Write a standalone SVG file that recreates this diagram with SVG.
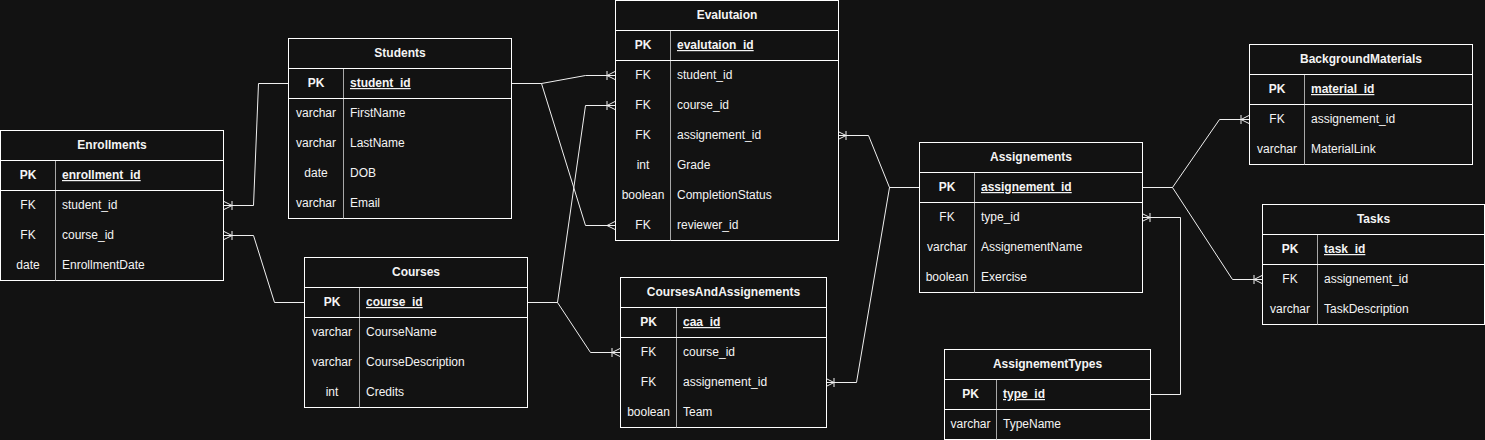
<svg xmlns="http://www.w3.org/2000/svg" width="1485" height="440" viewBox="0 0 1485 440">
<style>
.bg{fill:#121212}
.box{fill:#121212;stroke:#ffffff;stroke-width:1}
.ln{stroke:#ffffff;stroke-width:1;fill:none}
.dv{stroke:#a8a8a8;stroke-width:1;fill:none}
.edge{fill:none;stroke:#f0f0f0;stroke-width:1}
text{font-family:"Liberation Sans",Arial,Helvetica,sans-serif;font-size:12px;fill:#f4f4f4}
.t{font-weight:bold;text-anchor:middle}
.k{text-anchor:middle}
.kb{text-anchor:middle;font-weight:bold}
.pk{font-weight:bold;text-decoration:underline}
</style>
<defs>
<marker id="oneMany" markerUnits="userSpaceOnUse" viewBox="-12 -6 14 12" refX="0" refY="0" markerWidth="14" markerHeight="12" orient="auto" overflow="visible">
<path d="M-8,0 L0,-4 M-8,0 L0,4 M-8,-4.5 L-8,4.5" fill="none" stroke="#f0f0f0" stroke-width="1"/>
</marker>
<marker id="many" markerUnits="userSpaceOnUse" viewBox="-12 -6 14 12" refX="0" refY="0" markerWidth="14" markerHeight="12" orient="auto" overflow="visible">
<path d="M-8,0 L0,-4 M-8,0 L0,4" fill="none" stroke="#f0f0f0" stroke-width="1"/>
</marker>
</defs>
<rect class="bg" x="0" y="0" width="1485" height="440"/>

<g id="connectors">
<polyline class="edge" points="288,83.5 258.5,83.5 253.5,205.5 224,205.5" marker-end="url(#oneMany)"/>
<polyline class="edge" points="304,302.5 274.5,302.5 253.5,235.5 224,235.5" marker-end="url(#oneMany)"/>
<polyline class="edge" points="511,83.5 541.5,83.5 585.5,75.5 615,75.5" marker-end="url(#oneMany)"/>
<polyline class="edge" points="511,83.5 541.5,83.5 585.5,225.5 615,225.5" marker-end="url(#many)"/>
<polyline class="edge" points="527,302.5 557.5,302.5 585.5,105.5 615,105.5" marker-end="url(#oneMany)"/>
<polyline class="edge" points="527,302.5 557.5,302.5 590.5,352.5 620,352.5" marker-end="url(#oneMany)"/>
<polyline class="edge" points="919,187.5 889.5,187.5 868.5,135.5 838,135.5" marker-end="url(#oneMany)"/>
<polyline class="edge" points="919,187.5 889.5,187.5 856.5,382.5 826,382.5" marker-end="url(#oneMany)"/>
<polyline class="edge" points="1142,187.5 1172.5,187.5 1219.5,119.5 1249,119.5" marker-end="url(#oneMany)"/>
<polyline class="edge" points="1142,187.5 1172.5,187.5 1232.5,279.5 1262,279.5" marker-end="url(#oneMany)"/>
<polyline class="edge" points="1150,394.5 1180.5,394.5 1180.5,217.5 1142,217.5" marker-end="url(#oneMany)"/>
</g>

<g id="Enrollments">
<rect class="box" x="0.5" y="130.5" width="223" height="150"/>
<path class="dv" d="M55.5,160.5 V280.5"/>
<path class="ln" d="M0.5,160.5 H223.5 M0.5,190.5 H223.5"/>
<text class="t" x="112" y="149">Enrollments</text>
<text class="kb" x="28" y="179">PK</text><text class="pk" x="62" y="179">enrollment_id</text>
<text class="k" x="28" y="209">FK</text><text x="62" y="209">student_id</text>
<text class="k" x="28" y="239">FK</text><text x="62" y="239">course_id</text>
<text class="k" x="28" y="269">date</text><text x="62" y="269">EnrollmentDate</text>
</g>

<g id="Students">
<rect class="box" x="288.5" y="38.5" width="223" height="180"/>
<path class="dv" d="M343.5,68.5 V218.5"/>
<path class="ln" d="M288.5,68.5 H511.5 M288.5,98.5 H511.5"/>
<text class="t" x="400" y="57">Students</text>
<text class="kb" x="316" y="87">PK</text><text class="pk" x="350" y="87">student_id</text>
<text class="k" x="316" y="117">varchar</text><text x="350" y="117">FirstName</text>
<text class="k" x="316" y="147">varchar</text><text x="350" y="147">LastName</text>
<text class="k" x="316" y="177">date</text><text x="350" y="177">DOB</text>
<text class="k" x="316" y="207">varchar</text><text x="350" y="207">Email</text>
</g>

<g id="Evalutaion">
<rect class="box" x="615.5" y="0.5" width="223" height="240"/>
<path class="dv" d="M670.5,30.5 V240.5"/>
<path class="ln" d="M615.5,30.5 H838.5 M615.5,60.5 H838.5"/>
<text class="t" x="727" y="19">Evalutaion</text>
<text class="kb" x="643" y="49">PK</text><text class="pk" x="677" y="49">evalutaion_id</text>
<text class="k" x="643" y="79">FK</text><text x="677" y="79">student_id</text>
<text class="k" x="643" y="109">FK</text><text x="677" y="109">course_id</text>
<text class="k" x="643" y="139">FK</text><text x="677" y="139">assignement_id</text>
<text class="k" x="643" y="169">int</text><text x="677" y="169">Grade</text>
<text class="k" x="643" y="199">boolean</text><text x="677" y="199">CompletionStatus</text>
<text class="k" x="643" y="229">FK</text><text x="677" y="229">reviewer_id</text>
</g>

<g id="Courses">
<rect class="box" x="304.5" y="257.5" width="223" height="150"/>
<path class="dv" d="M359.5,287.5 V407.5"/>
<path class="ln" d="M304.5,287.5 H527.5 M304.5,317.5 H527.5"/>
<text class="t" x="416" y="276">Courses</text>
<text class="kb" x="332" y="306">PK</text><text class="pk" x="366" y="306">course_id</text>
<text class="k" x="332" y="336">varchar</text><text x="366" y="336">CourseName</text>
<text class="k" x="332" y="366">varchar</text><text x="366" y="366">CourseDescription</text>
<text class="k" x="332" y="396">int</text><text x="366" y="396">Credits</text>
</g>

<g id="CoursesAndAssignements">
<rect class="box" x="620.5" y="277.5" width="206" height="150"/>
<path class="dv" d="M676.5,307.5 V427.5"/>
<path class="ln" d="M620.5,307.5 H826.5 M620.5,337.5 H826.5"/>
<text class="t" x="723.5" y="296">CoursesAndAssignements</text>
<text class="kb" x="648.5" y="326">PK</text><text class="pk" x="683" y="326">caa_id</text>
<text class="k" x="648.5" y="356">FK</text><text x="683" y="356">course_id</text>
<text class="k" x="648.5" y="386">FK</text><text x="683" y="386">assignement_id</text>
<text class="k" x="648.5" y="416">boolean</text><text x="683" y="416">Team</text>
</g>

<g id="Assignements">
<rect class="box" x="919.5" y="142.5" width="223" height="150"/>
<path class="dv" d="M974.5,172.5 V292.5"/>
<path class="ln" d="M919.5,172.5 H1142.5 M919.5,202.5 H1142.5"/>
<text class="t" x="1031" y="161">Assignements</text>
<text class="kb" x="947" y="191">PK</text><text class="pk" x="981" y="191">assignement_id</text>
<text class="k" x="947" y="221">FK</text><text x="981" y="221">type_id</text>
<text class="k" x="947" y="251">varchar</text><text x="981" y="251">AssignementName</text>
<text class="k" x="947" y="281">boolean</text><text x="981" y="281">Exercise</text>
</g>

<g id="BackgroundMaterials">
<rect class="box" x="1249.5" y="44.5" width="223" height="120"/>
<path class="dv" d="M1304.5,74.5 V164.5"/>
<path class="ln" d="M1249.5,74.5 H1472.5 M1249.5,104.5 H1472.5"/>
<text class="t" x="1361" y="63">BackgroundMaterials</text>
<text class="kb" x="1277" y="93">PK</text><text class="pk" x="1311" y="93">material_id</text>
<text class="k" x="1277" y="123">FK</text><text x="1311" y="123">assignement_id</text>
<text class="k" x="1277" y="153">varchar</text><text x="1311" y="153">MaterialLink</text>
</g>

<g id="Tasks">
<rect class="box" x="1262.5" y="204.5" width="222" height="120"/>
<path class="dv" d="M1317.5,234.5 V324.5"/>
<path class="ln" d="M1262.5,234.5 H1484.5 M1262.5,264.5 H1484.5"/>
<text class="t" x="1373.5" y="223">Tasks</text>
<text class="kb" x="1290" y="253">PK</text><text class="pk" x="1324" y="253">task_id</text>
<text class="k" x="1290" y="283">FK</text><text x="1324" y="283">assignement_id</text>
<text class="k" x="1290" y="313">varchar</text><text x="1324" y="313">TaskDescription</text>
</g>

<g id="AssignementTypes">
<rect class="box" x="944.5" y="349.5" width="206" height="90"/>
<path class="dv" d="M996.5,379.5 V439.5"/>
<path class="ln" d="M944.5,379.5 H1150.5 M944.5,409.5 H1150.5"/>
<text class="t" x="1047.5" y="368">AssignementTypes</text>
<text class="kb" x="970.5" y="398">PK</text><text class="pk" x="1003" y="398">type_id</text>
<text class="k" x="970.5" y="428">varchar</text><text x="1003" y="428">TypeName</text>
</g>
</svg>
